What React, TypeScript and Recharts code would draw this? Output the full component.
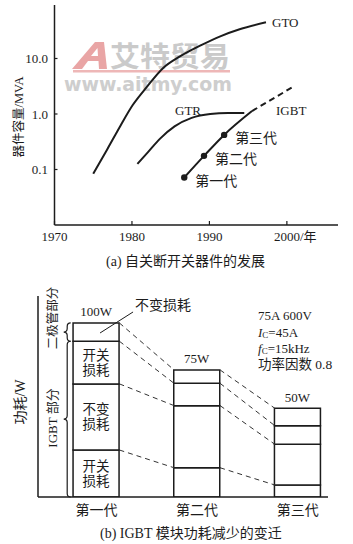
import React from 'react';
import { ComposedChart, Line, XAxis, YAxis, BarChart, Bar, ReferenceLine, LabelList } from 'recharts';

// ---------- (a) device capacity development ----------
const yearTicks = [1970, 1980, 1990, 2000];
const yearUnit = '/年';
const capTicks = [0.1, 1, 10];
const capTickLabels = ['0.1', '1.0', '10.0'];

const gtoYears = [1975.0, 1976.8, 1978.5, 1980.1, 1981.9, 1984.0, 1986.2, 1988.8, 1991.4, 1993.9, 1997.3];
const gtoMVA = [0.084, 0.23, 0.61, 1.45, 3.05, 6.7, 10.9, 17.0, 25.1, 33.6, 44.9];
const gtrYears = [1980.7, 1982.1, 1983.6, 1985.5, 1987.7, 1990.1, 1992.4, 1994.5];
const gtrMVA = [0.126, 0.208, 0.356, 0.597, 0.85, 1.0, 1.04, 1.04];
const igbtYears = [1986.75, 1989.3, 1991.9, 1995.5];
const igbtMVA = [0.0718, 0.176, 0.42, 1.13];
const igbtGenLabels = ['第一代', '第二代', '第三代', ''];
const igbtFutureYears = [1995.5, 2000.8];
const igbtFutureMVA = [1.13, 3.09];

// ---------- (b) IGBT module loss ----------
const generations = ['第一代', '第二代', '第三代'];
const genIndex = [1, 2, 3];
const totalLabels = ['100W', '75W', '50W'];
const segNames = ['开关损耗', '不变损耗', '开关损耗', '不变损耗'];
const seg1Switch = [27.0, 16.8, 6.9];
const seg2Const = [38.0, 35.7, 23.4];
const seg3Switch = [24.5, 12.8, 10.7];
const seg4Const = [10.5, 7.7, 10.0];

const FONT = "'Liberation Serif', 'Noto Sans CJK SC', serif";
const INK = '#1c1c1c';

const toSeries = (xs: number[], ys: number[]) => xs.map((year, i) => ({ year, v: ys[i] }));
const gtoData = toSeries(gtoYears, gtoMVA);
const gtrData = toSeries(gtrYears, gtrMVA);
const igbtData = toSeries(igbtYears, igbtMVA);
const igbtFutureData = toSeries(igbtFutureYears, igbtFutureMVA);

const barData = genIndex.map((g, i) => ({
  g,
  s1: seg1Switch[i],
  s2: seg2Const[i],
  s3: seg3Switch[i],
  s4: seg4Const[i],
}));
const levels = barData.map((d) => [d.s1, d.s1 + d.s2, d.s1 + d.s2 + d.s3, d.s1 + d.s2 + d.s3 + d.s4]);

const BAR_SIZE = 46;

const connectors: { a: { x: number; y: number }; b: { x: number; y: number } }[] = [];
for (let i = 0; i < genIndex.length - 1; i++) {
  for (let k = 0; k < 4; k++) {
    connectors.push({
      a: { x: genIndex[i], y: levels[i][k] },
      b: { x: genIndex[i + 1], y: levels[i + 1][k] },
    });
  }
}

const YearTick = (props: any) => {
  const { x, y, payload } = props;
  const isLast = payload.value === yearTicks[yearTicks.length - 1];
  return (
    <g>
      <text x={x} y={y} dy="0.71em" textAnchor="middle" fontSize={13} fill={INK} fontFamily={FONT}>
        {payload.value}
      </text>
      {isLast && (
        <text x={x + 13} y={y} dy="0.71em" textAnchor="start" fontSize={13} fill={INK} fontFamily={FONT}>
          {yearUnit}
        </text>
      )}
    </g>
  );
};

const IgbtDot = (props: any) => {
  const { cx, cy, index } = props;
  const lab = igbtGenLabels[index];
  if (!lab) return <g key={`d${index}`} />;
  return (
    <g key={`d${index}`}>
      <circle cx={cx} cy={cy} r={3.2} fill={INK} />
      <text x={cx + 11} y={cy + 4} fontSize={14} fill={INK} fontFamily={FONT} dominantBaseline="central">
        {lab}
      </text>
    </g>
  );
};

const DashShape = (p: any) => (
  <line
    x1={p.x1 + BAR_SIZE / 2}
    y1={p.y1}
    x2={p.x2 - BAR_SIZE / 2}
    y2={p.y2}
    stroke="#333"
    strokeWidth={1}
    strokeDasharray="5 4"
  />
);

const BraceShape = (p: any) => {
  const x = p.x1;
  const t = Math.min(p.y1, p.y2);
  const b = Math.max(p.y1, p.y2);
  const m = (t + b) / 2;
  const w = 3.5;
  const d = `M ${x + w} ${t} Q ${x} ${t} ${x} ${t + w} L ${x} ${m - w} Q ${x} ${m} ${x - w} ${m} Q ${x} ${m} ${x} ${m + w} L ${x} ${b - w} Q ${x} ${b} ${x + w} ${b}`;
  return <path d={d} fill="none" stroke={INK} strokeWidth={1.2} />;
};

const makeInBarLabel = (name: string) => (props: any) => {
  const { x, y, width, height, index } = props;
  if (index !== 0) return <g />;
  const cx = x + width / 2;
  const cy = y + height / 2;
  return (
    <g>
      <text x={cx} y={cy - 7.5} textAnchor="middle" dominantBaseline="central" fontSize={13.5} fill={INK} fontFamily={FONT}>
        {name.slice(0, 2)}
      </text>
      <text x={cx} y={cy + 7.5} textAnchor="middle" dominantBaseline="central" fontSize={13.5} fill={INK} fontFamily={FONT}>
        {name.slice(2)}
      </text>
    </g>
  );
};

const TopLabel = (props: any) => {
  const { x, y, width, index } = props;
  const cx = x + width / 2;
  return (
    <g>
      <text x={cx} y={y - 11} textAnchor="middle" dominantBaseline="central" fontSize={13} fill={INK} fontFamily={FONT}>
        {totalLabels[index]}
      </text>
      {index === 0 && (
        <g>
          <line x1={x + 27} y1={y + 10} x2={x + 60} y2={y - 11} stroke={INK} strokeWidth={1} />
          <text x={x + 62} y={y - 17} dominantBaseline="central" fontSize={14} fill={INK} fontFamily={FONT}>
            {segNames[3]}
          </text>
        </g>
      )}
    </g>
  );
};

const lineProps = { stroke: INK, strokeWidth: 2, dot: false, isAnimationActive: false, dataKey: 'v' } as const;

export default function App() {
  return (
    <div style={{ position: 'absolute', left: 0, top: 0, width: 353, height: 544, background: '#fff', overflow: 'hidden' }}>
      {/* watermark */}
      <svg width={353} height={544} style={{ position: 'absolute', left: 0, top: 0 }}>
        <g opacity={0.8}>
          <path
            d="M 72 69 L 95 42 L 104 42 L 107 69 L 99 69 L 98.5 61 L 88 61 L 82 69 Z M 91 56 L 98 56 L 97.5 48 Z"
            fill="#e48f8f"
            fillRule="evenodd"
          />
          <text x={110} y={55} dominantBaseline="central" fontSize={28} fontWeight="bold" fill="#bdbdbd" fontFamily="'Noto Sans CJK SC', sans-serif" textLength={120} lengthAdjust="spacingAndGlyphs">艾特贸易</text>
          <rect x={73} y={70} width={157} height={2.5} fill="#eaa6a6" />
          <text x={64} y={84} dominantBaseline="central" fontSize={19} fontWeight="bold" fill="#c2c2c2" fontFamily="'DejaVu Sans', sans-serif" textLength={168} lengthAdjust="spacingAndGlyphs">www.aitmy.com</text>
        </g>
      </svg>

      <div style={{ position: 'absolute', left: 0, top: 0 }}>
        <ComposedChart width={353} height={250} margin={{ top: 5, right: 15, bottom: 5, left: 0 }}>
          <XAxis
            type="number"
            dataKey="year"
            domain={[1970, 2006.6]}
            ticks={yearTicks}
            allowDataOverflow
            height={20}
            tick={<YearTick />}
            tickSize={-4}
            tickMargin={11}
            axisLine={{ stroke: INK, strokeWidth: 1.5 }}
            tickLine={{ stroke: INK, strokeWidth: 1.2 }}
          />
          <YAxis
            type="number"
            scale="log"
            domain={[0.01, 92]}
            ticks={capTicks}
            allowDataOverflow
            width={54.5}
            tickSize={-3}
            tickMargin={9.5}
            tickFormatter={(v: number) => capTickLabels[capTicks.indexOf(v)]}
            tick={{ fontSize: 13, fill: INK, fontFamily: FONT }}
            axisLine={{ stroke: INK, strokeWidth: 1.5 }}
            tickLine={{ stroke: INK, strokeWidth: 1.2 }}
          />
          <Line data={gtoData} type="monotone" {...lineProps} />
          <Line data={gtrData} type="monotone" {...lineProps} />
          <Line data={igbtData} type="monotone" {...lineProps} dot={<IgbtDot />} />
          <Line data={igbtFutureData} type="linear" {...lineProps} strokeDasharray="6 4" />
        </ComposedChart>
      </div>

      <div style={{ position: 'absolute', left: 0, top: 280 }}>
        <BarChart width={353} height={264} data={barData} margin={{ top: 16, right: 25, bottom: 27, left: 0 }}>
          <XAxis
            type="number"
            dataKey="g"
            domain={[0.42, 3.3]}
            ticks={genIndex}
            allowDataOverflow
            height={20}
            tickFormatter={(v: number) => generations[genIndex.indexOf(v)]}
            tick={{ fontSize: 14, fill: INK, fontFamily: FONT }}
            tickLine={false}
            tickSize={0}
            tickMargin={8}
            axisLine={{ stroke: INK, strokeWidth: 1.5 }}
          />
          <YAxis
            type="number"
            domain={[0, 115.5]}
            allowDataOverflow
            width={38}
            tick={false}
            tickLine={false}
            axisLine={{ stroke: INK, strokeWidth: 1.5 }}
          />
          <Bar dataKey="s1" stackId="a" barSize={BAR_SIZE} fill="#fff" stroke={INK} strokeWidth={1.5} isAnimationActive={false}>
            <LabelList dataKey="s1" content={makeInBarLabel(segNames[0])} />
          </Bar>
          <Bar dataKey="s2" stackId="a" barSize={BAR_SIZE} fill="#fff" stroke={INK} strokeWidth={1.5} isAnimationActive={false}>
            <LabelList dataKey="s2" content={makeInBarLabel(segNames[1])} />
          </Bar>
          <Bar dataKey="s3" stackId="a" barSize={BAR_SIZE} fill="#fff" stroke={INK} strokeWidth={1.5} isAnimationActive={false}>
            <LabelList dataKey="s3" content={makeInBarLabel(segNames[2])} />
          </Bar>
          <Bar dataKey="s4" stackId="a" barSize={BAR_SIZE} fill="#fff" stroke={INK} strokeWidth={1.5} isAnimationActive={false}>
            <LabelList dataKey="s4" content={TopLabel} />
          </Bar>
          {connectors.map((c, j) => (
            <ReferenceLine key={j} segment={[c.a, c.b]} ifOverflow="visible" shape={DashShape} />
          ))}
          <ReferenceLine segment={[{ x: 0.71, y: levels[0][2] }, { x: 0.71, y: levels[0][3] }]} ifOverflow="visible" shape={BraceShape} />
          <ReferenceLine segment={[{ x: 0.71, y: 0 }, { x: 0.71, y: levels[0][2] }]} ifOverflow="visible" shape={BraceShape} />
        </BarChart>
      </div>

      {/* annotations */}
      <svg width={353} height={544} style={{ position: 'absolute', left: 0, top: 0, pointerEvents: 'none' }} fontFamily={FONT} fill={INK}>
        <text transform="translate(19,117) rotate(-90)" textAnchor="middle" dominantBaseline="central" fontSize={12.5}>器件容量/MVA</text>
        <text x={272} y={22} dominantBaseline="central" fontSize={13}>GTO</text>
        <text x={175} y={110} dominantBaseline="central" fontSize={13}>GTR</text>
        <text x={276} y={110} dominantBaseline="central" fontSize={13}>IGBT</text>
        <text x={106} y={261} dominantBaseline="central" fontSize={14}>(a) 自关断开关器件的发展</text>

        <text transform="translate(20,402) rotate(-90)" textAnchor="middle" dominantBaseline="central" fontSize={14}>功耗/W</text>
        <text transform="translate(53,318) rotate(-90)" textAnchor="middle" dominantBaseline="central" fontSize={12.5}>二极管部分</text>
        <text transform="translate(52,418) rotate(-90)" textAnchor="middle" dominantBaseline="central" fontSize={13}>IGBT 部分</text>

        <text x={258} y={315} dominantBaseline="central" fontSize={13}>75A 600V</text>
        <text x={258} y={331.5} dominantBaseline="central" fontSize={13}>
          <tspan fontStyle="italic">I</tspan>
          <tspan fontSize={9} dy={3}>C</tspan>
          <tspan dy={-3}>=45A</tspan>
        </text>
        <text x={258} y={348} dominantBaseline="central" fontSize={13}>
          <tspan fontStyle="italic">f</tspan>
          <tspan fontSize={9} dy={3}>C</tspan>
          <tspan dy={-3}>=15kHz</tspan>
        </text>
        <text x={258} y={364} dominantBaseline="central" fontSize={13.5}>功率因数 0.8</text>

        <text x={100} y={533} dominantBaseline="central" fontSize={14}>(b) IGBT 模块功耗减少的变迁</text>
      </svg>
    </div>
  );
}
